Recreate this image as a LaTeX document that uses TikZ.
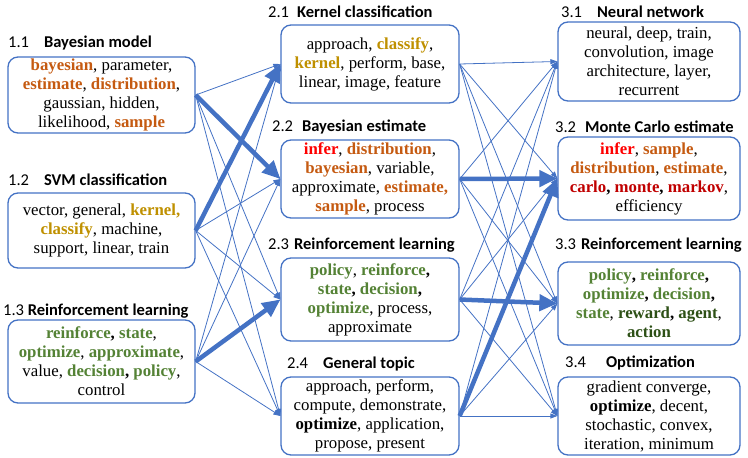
\documentclass[tikz,border=0pt]{standalone}
\usepackage{fontspec}
\setmainfont{Liberation Serif}
\newfontfamily\titlefont{Carlito}
\usepackage{tikz}
\usetikzlibrary{arrows.meta,positioning}

\definecolor{lineblue}{RGB}{68,114,196}
\definecolor{bayesorange}{RGB}{197,90,17}
\definecolor{kernelgold}{RGB}{191,144,0}
\definecolor{rlgreen}{RGB}{84,130,53}
\definecolor{rldark}{RGB}{45,80,22}
\definecolor{mcred}{RGB}{192,0,0}
\definecolor{infered}{RGB}{255,0,0}

\newcommand{\ob}[1]{\textbf{\textcolor{bayesorange}{#1}}}
\newcommand{\gb}[1]{\textbf{\textcolor{kernelgold}{#1}}}
\newcommand{\grb}[1]{\textbf{\textcolor{rlgreen}{#1}}}
\newcommand{\dgb}[1]{\textbf{\textcolor{rldark}{#1}}}
\newcommand{\rb}[1]{\textbf{\textcolor{infered}{#1}}}
\newcommand{\drb}[1]{\textbf{\textcolor{mcred}{#1}}}

\begin{document}
\begin{tikzpicture}[
		x=1pt, y=-1pt,
		topicbox/.style={
			rectangle, draw=lineblue, line width=1.3pt, rounded corners=10pt,
			align=center, inner sep=0pt,
			font=\fontsize{16.8}{19}\selectfont
		},
		leftbox/.style={topicbox, minimum width=187pt},
		midbox/.style={topicbox, minimum width=178pt},
		rightbox/.style={topicbox, minimum width=182pt},
		title/.style={anchor=west, inner sep=0pt, font=\titlefont\fontsize{16.5}{18}\selectfont},
		link/.style={-{Triangle[length=7pt,width=5pt]}, line width=0.8pt, lineblue},
		strong/.style={-{Triangle[length=18pt,width=16pt]}, line width=4.5pt, lineblue}
		]
		
		\useasboundingbox (0,0) rectangle (748,458);
		
		% first level
		\node[leftbox, minimum height=76pt] (bayes) at (101.5,95) {\ob{bayesian}, parameter,\\ \ob{estimate}, \ob{distribution},\\ gaussian, hidden,\\ likelihood, \ob{sample}};
		\node[leftbox, minimum height=75pt] (svm) at (101.5,230.5) {vector, general, \gb{kernel,}\\ \gb{classify}, machine,\\ support, linear, train};
		\node[leftbox, minimum height=83pt] (rlA) at (101.5,361.5) {\grb{reinforce}\textbf{,} \grb{state},\\ \grb{optimize}, \grb{approximate},\\ value, \grb{decision}\textbf{,} \grb{policy},\\ control};
		
		% second level
		\node[midbox, minimum height=78pt] (kernel) at (370,64) {approach, \gb{classify},\\ \gb{kernel}, perform, base,\\ linear, image, feature};
		\node[midbox, minimum height=78pt] (bayesest) at (370,179) {\rb{infer}, \ob{distribution},\\ \ob{bayesian}, variable,\\ approximate, \ob{estimate,}\\ \ob{sample}, process};
		\node[midbox, minimum height=83pt] (rlB) at (370,299.5) {\grb{policy}, \grb{reinforce}\textbf{,}\\ \grb{state}\textbf{,} \grb{decision}\textbf{,}\\ \grb{optimize}, process,\\ approximate};
		\node[midbox, minimum height=78pt] (general) at (370,416) {approach, perform,\\ compute, demonstrate,\\ \textbf{optimize}, application,\\ propose, present};
		
		% third level
		\node[rightbox, minimum height=79pt] (neural) at (649,61.5) {neural, deep, train,\\ convolution, image\\ architecture, layer,\\ recurrent};
		\node[rightbox, minimum height=83pt] (monte) at (649,178.5) {\rb{infer}, \ob{sample},\\ \ob{distribution}, \ob{estimate},\\ \drb{carlo}\textbf{,} \drb{monte}\textbf{,} \drb{markov},\\ efficiency};
		\node[rightbox, minimum height=83pt] (rlC) at (649,303.5) {\grb{policy}\textbf{,} \grb{reinforce}\textbf{,}\\ \grb{optimize}\textbf{,} \grb{decision}\textbf{,}\\ \grb{state}, \dgb{reward}\textbf{,} \dgb{agent},\\ \dgb{action}};
		\node[rightbox, minimum height=78pt] (optim) at (649,416) {gradient converge,\\ \textbf{optimize}, decent,\\ stochastic, convex,\\ iteration, minimum};
		
		% titles
		\node[title] (tBayes) at (8,43) {1.1\hspace{15pt}\textbf{Bayesian model}};
		\node[title] (tSvm) at (8,180) {1.2\hspace{15pt}\textbf{SVM classification}};
		\node[title] (tRlA) at (3,311) {1.3 \textbf{Reinforcement learning}};
		\node[title] (tKernel) at (268,12) {2.1\hspace{8pt}\textbf{Kernel classification}};
		\node[title] (tBayesest) at (272,127) {2.2\hspace{9pt}\textbf{Bayesian estimate}};
		\node[title] (tRlB) at (268,245) {2.3\hspace{5pt}\textbf{Reinforcement learning}};
		\node[title] (tGeneral) at (287,364) {2.4\hspace{15pt}\textbf{General topic}};
		\node[title] (tNeural) at (561,12) {3.1\hspace{15pt}\textbf{Neural network}};
		\node[title] (tMonte) at (555,127) {3.2\hspace{9pt}\textbf{Monte Carlo estimate}};
		\node[title] (tRlC) at (555,245) {3.3\hspace{5pt}\textbf{Reinforcement learning}};
		\node[title] (tOptim) at (565,363) {3.4\hspace{20pt}\textbf{Optimization}};
		
		% all links
		\foreach \src in {bayes,svm,rlA}
			\foreach \dst in {kernel,bayesest,rlB,general}
				\draw[link] (\src.east) -- (\dst.west);
		\foreach \src in {kernel,bayesest,rlB,general}
			\foreach \dst in {neural,monte,rlC,optim}
				\draw[link] (\src.east) -- (\dst.west);
		
		% strong links
		\draw[strong] (bayes.east) -- (bayesest.west);
		\draw[strong] (svm.east) -- (kernel.west);
		\draw[strong] (rlA.east) -- (rlB.west);
		\draw[strong] (bayesest.east) -- (monte.west);
		\draw[strong] (rlB.east) -- (rlC.west);
		\draw[strong] (general.east) -- (monte.west);
	\end{tikzpicture}
\end{document}
